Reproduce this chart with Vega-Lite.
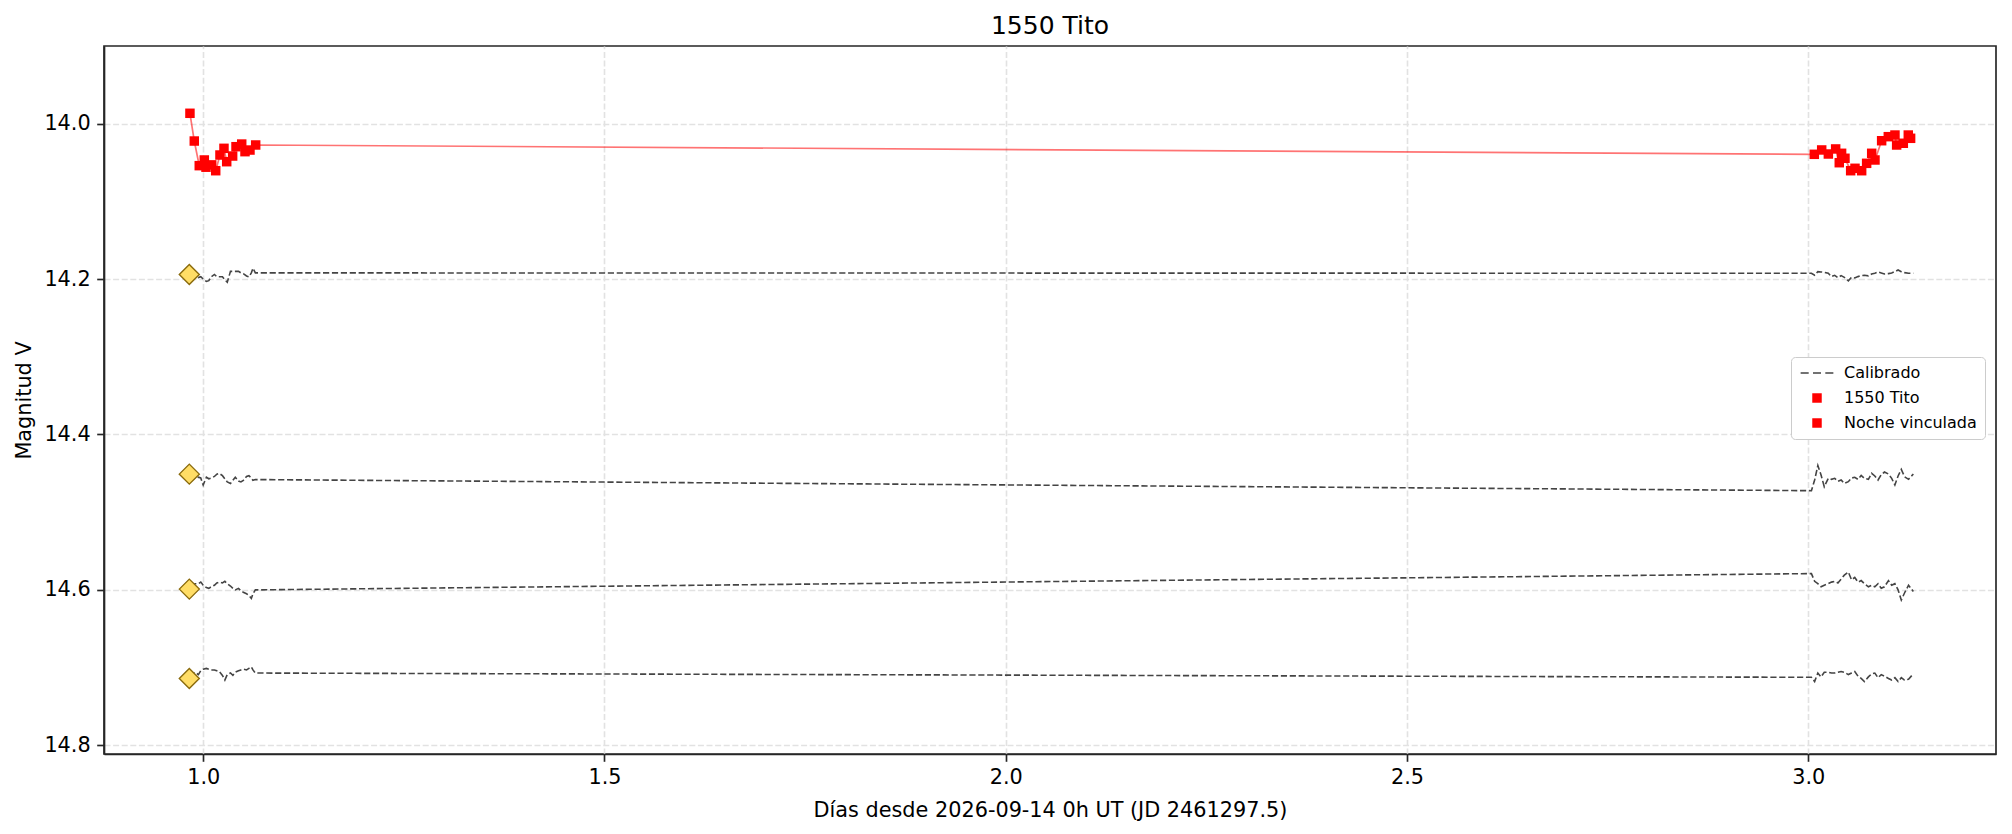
{
  "$schema": "https://vega.github.io/schema/vega-lite/v6.json",
  "width": 1892,
  "height": 708,
  "autosize": {"type": "none"},
  "padding": {"left": 104, "top": 46, "right": 16, "bottom": 80},
  "background": "white",
  "title": {"text": "1550 Tito", "fontSize": 25, "fontWeight": "normal", "font": "DejaVu Sans", "color": "#000000", "offset": 7, "anchor": "middle", "frame": "group"},
  "datasets": {
    "target": [
      {"t": 0.9835, "m": 13.9866, "s": "1550 Tito"},
      {"t": 0.9889, "m": 14.0223, "s": "1550 Tito"},
      {"t": 0.9951, "m": 14.054, "s": "1550 Tito"},
      {"t": 1.0014, "m": 14.0467, "s": "1550 Tito"},
      {"t": 1.0035, "m": 14.056, "s": "1550 Tito"},
      {"t": 1.0106, "m": 14.053, "s": "1550 Tito"},
      {"t": 1.0156, "m": 14.0605, "s": "1550 Tito"},
      {"t": 1.0209, "m": 14.0403, "s": "1550 Tito"},
      {"t": 1.0259, "m": 14.0317, "s": "1550 Tito"},
      {"t": 1.0293, "m": 14.0489, "s": "1550 Tito"},
      {"t": 1.0367, "m": 14.0416, "s": "1550 Tito"},
      {"t": 1.0409, "m": 14.0296, "s": "1550 Tito"},
      {"t": 1.048, "m": 14.0262, "s": "1550 Tito"},
      {"t": 1.0521, "m": 14.036, "s": "1550 Tito"},
      {"t": 1.0583, "m": 14.0339, "s": "1550 Tito"},
      {"t": 1.0654, "m": 14.0274, "s": "1550 Tito"},
      {"t": 3.0076, "m": 14.0394, "s": "Noche vinculada"},
      {"t": 3.0168, "m": 14.0338, "s": "Noche vinculada"},
      {"t": 3.0251, "m": 14.039, "s": "Noche vinculada"},
      {"t": 3.0342, "m": 14.0325, "s": "Noche vinculada"},
      {"t": 3.0387, "m": 14.0502, "s": "Noche vinculada"},
      {"t": 3.0416, "m": 14.0381, "s": "Noche vinculada"},
      {"t": 3.0458, "m": 14.0445, "s": "Noche vinculada"},
      {"t": 3.0529, "m": 14.0605, "s": "Noche vinculada"},
      {"t": 3.0583, "m": 14.0574, "s": "Noche vinculada"},
      {"t": 3.0666, "m": 14.0605, "s": "Noche vinculada"},
      {"t": 3.0728, "m": 14.051, "s": "Noche vinculada"},
      {"t": 3.0791, "m": 14.0381, "s": "Noche vinculada"},
      {"t": 3.0832, "m": 14.0467, "s": "Noche vinculada"},
      {"t": 3.0915, "m": 14.0219, "s": "Noche vinculada"},
      {"t": 3.0998, "m": 14.0167, "s": "Noche vinculada"},
      {"t": 3.1081, "m": 14.0146, "s": "Noche vinculada"},
      {"t": 3.1102, "m": 14.0274, "s": "Noche vinculada"},
      {"t": 3.1185, "m": 14.0252, "s": "Noche vinculada"},
      {"t": 3.1247, "m": 14.0146, "s": "Noche vinculada"},
      {"t": 3.1276, "m": 14.0188, "s": "Noche vinculada"}
    ],
    "refs": [
      {"t": 0.9827, "m": 14.194},
      {"t": 0.9827, "m": 14.451},
      {"t": 0.9827, "m": 14.599},
      {"t": 0.9827, "m": 14.714}
    ],
    "comps": [
      {"c": "C1", "t": 0.984, "m": 14.196}, {"c": "C1", "t": 0.987, "m": 14.197}, {"c": "C1", "t": 0.990, "m": 14.195}, {"c": "C1", "t": 0.994, "m": 14.198},
      {"c": "C1", "t": 0.997, "m": 14.197}, {"c": "C1", "t": 1.000, "m": 14.200}, {"c": "C1", "t": 1.004, "m": 14.203}, {"c": "C1", "t": 1.007, "m": 14.202},
      {"c": "C1", "t": 1.010, "m": 14.197}, {"c": "C1", "t": 1.014, "m": 14.194}, {"c": "C1", "t": 1.017, "m": 14.197}, {"c": "C1", "t": 1.020, "m": 14.197},
      {"c": "C1", "t": 1.024, "m": 14.197}, {"c": "C1", "t": 1.027, "m": 14.201}, {"c": "C1", "t": 1.030, "m": 14.204}, {"c": "C1", "t": 1.034, "m": 14.190},
      {"c": "C1", "t": 1.037, "m": 14.190}, {"c": "C1", "t": 1.040, "m": 14.190}, {"c": "C1", "t": 1.044, "m": 14.190}, {"c": "C1", "t": 1.047, "m": 14.192},
      {"c": "C1", "t": 1.050, "m": 14.193}, {"c": "C1", "t": 1.054, "m": 14.196}, {"c": "C1", "t": 1.057, "m": 14.197}, {"c": "C1", "t": 1.060, "m": 14.192},
      {"c": "C1", "t": 1.062, "m": 14.186}, {"c": "C1", "t": 1.065, "m": 14.192},
      {"c": "C1", "t": 3.004, "m": 14.1925}, {"c": "C1", "t": 3.008, "m": 14.1951}, {"c": "C1", "t": 3.012, "m": 14.1904}, {"c": "C1", "t": 3.016, "m": 14.1908},
      {"c": "C1", "t": 3.020, "m": 14.1912}, {"c": "C1", "t": 3.025, "m": 14.1925}, {"c": "C1", "t": 3.029, "m": 14.1968}, {"c": "C1", "t": 3.033, "m": 14.1951},
      {"c": "C1", "t": 3.037, "m": 14.1981}, {"c": "C1", "t": 3.041, "m": 14.1955}, {"c": "C1", "t": 3.045, "m": 14.1977}, {"c": "C1", "t": 3.050, "m": 14.2023},
      {"c": "C1", "t": 3.054, "m": 14.1977}, {"c": "C1", "t": 3.058, "m": 14.1985}, {"c": "C1", "t": 3.062, "m": 14.1968}, {"c": "C1", "t": 3.066, "m": 14.1955},
      {"c": "C1", "t": 3.070, "m": 14.1951}, {"c": "C1", "t": 3.075, "m": 14.1959}, {"c": "C1", "t": 3.079, "m": 14.1934}, {"c": "C1", "t": 3.083, "m": 14.1925},
      {"c": "C1", "t": 3.087, "m": 14.1908}, {"c": "C1", "t": 3.091, "m": 14.1921}, {"c": "C1", "t": 3.095, "m": 14.1934}, {"c": "C1", "t": 3.100, "m": 14.1929},
      {"c": "C1", "t": 3.104, "m": 14.1921}, {"c": "C1", "t": 3.108, "m": 14.1904}, {"c": "C1", "t": 3.112, "m": 14.1882}, {"c": "C1", "t": 3.116, "m": 14.1904},
      {"c": "C1", "t": 3.120, "m": 14.1917}, {"c": "C1", "t": 3.125, "m": 14.1925}, {"c": "C1", "t": 3.131, "m": 14.1925},

      {"c": "C2", "t": 0.984, "m": 14.452}, {"c": "C2", "t": 0.987, "m": 14.455}, {"c": "C2", "t": 0.990, "m": 14.457}, {"c": "C2", "t": 0.994, "m": 14.455},
      {"c": "C2", "t": 0.997, "m": 14.456}, {"c": "C2", "t": 1.000, "m": 14.465}, {"c": "C2", "t": 1.004, "m": 14.455}, {"c": "C2", "t": 1.007, "m": 14.457},
      {"c": "C2", "t": 1.010, "m": 14.456}, {"c": "C2", "t": 1.014, "m": 14.454}, {"c": "C2", "t": 1.017, "m": 14.451}, {"c": "C2", "t": 1.020, "m": 14.450},
      {"c": "C2", "t": 1.024, "m": 14.453}, {"c": "C2", "t": 1.027, "m": 14.457}, {"c": "C2", "t": 1.030, "m": 14.461}, {"c": "C2", "t": 1.034, "m": 14.463},
      {"c": "C2", "t": 1.037, "m": 14.459}, {"c": "C2", "t": 1.040, "m": 14.455}, {"c": "C2", "t": 1.044, "m": 14.460}, {"c": "C2", "t": 1.047, "m": 14.461},
      {"c": "C2", "t": 1.050, "m": 14.459}, {"c": "C2", "t": 1.054, "m": 14.454}, {"c": "C2", "t": 1.057, "m": 14.453}, {"c": "C2", "t": 1.060, "m": 14.456},
      {"c": "C2", "t": 1.062, "m": 14.459}, {"c": "C2", "t": 1.065, "m": 14.458},
      {"c": "C2", "t": 3.004, "m": 14.4723}, {"c": "C2", "t": 3.008, "m": 14.4586}, {"c": "C2", "t": 3.012, "m": 14.440}, {"c": "C2", "t": 3.016, "m": 14.4521},
      {"c": "C2", "t": 3.020, "m": 14.4672}, {"c": "C2", "t": 3.025, "m": 14.4564}, {"c": "C2", "t": 3.029, "m": 14.4577}, {"c": "C2", "t": 3.033, "m": 14.4564},
      {"c": "C2", "t": 3.037, "m": 14.4603}, {"c": "C2", "t": 3.041, "m": 14.4586}, {"c": "C2", "t": 3.045, "m": 14.4629}, {"c": "C2", "t": 3.050, "m": 14.4607},
      {"c": "C2", "t": 3.054, "m": 14.456}, {"c": "C2", "t": 3.058, "m": 14.4551}, {"c": "C2", "t": 3.062, "m": 14.4577}, {"c": "C2", "t": 3.066, "m": 14.4526},
      {"c": "C2", "t": 3.070, "m": 14.4564}, {"c": "C2", "t": 3.075, "m": 14.4577}, {"c": "C2", "t": 3.079, "m": 14.45}, {"c": "C2", "t": 3.083, "m": 14.4534},
      {"c": "C2", "t": 3.087, "m": 14.4586}, {"c": "C2", "t": 3.091, "m": 14.4517}, {"c": "C2", "t": 3.095, "m": 14.4483}, {"c": "C2", "t": 3.100, "m": 14.4509},
      {"c": "C2", "t": 3.104, "m": 14.4564}, {"c": "C2", "t": 3.108, "m": 14.465}, {"c": "C2", "t": 3.112, "m": 14.4534}, {"c": "C2", "t": 3.116, "m": 14.4448},
      {"c": "C2", "t": 3.120, "m": 14.4543}, {"c": "C2", "t": 3.125, "m": 14.4577}, {"c": "C2", "t": 3.131, "m": 14.4509},

      {"c": "C3", "t": 0.984, "m": 14.594}, {"c": "C3", "t": 0.987, "m": 14.593}, {"c": "C3", "t": 0.990, "m": 14.592}, {"c": "C3", "t": 0.994, "m": 14.592},
      {"c": "C3", "t": 0.997, "m": 14.590}, {"c": "C3", "t": 1.000, "m": 14.594}, {"c": "C3", "t": 1.004, "m": 14.597}, {"c": "C3", "t": 1.007, "m": 14.598},
      {"c": "C3", "t": 1.010, "m": 14.596}, {"c": "C3", "t": 1.014, "m": 14.594}, {"c": "C3", "t": 1.017, "m": 14.591}, {"c": "C3", "t": 1.020, "m": 14.590},
      {"c": "C3", "t": 1.024, "m": 14.591}, {"c": "C3", "t": 1.027, "m": 14.589}, {"c": "C3", "t": 1.030, "m": 14.592}, {"c": "C3", "t": 1.034, "m": 14.595},
      {"c": "C3", "t": 1.037, "m": 14.598}, {"c": "C3", "t": 1.040, "m": 14.600}, {"c": "C3", "t": 1.044, "m": 14.598}, {"c": "C3", "t": 1.047, "m": 14.601},
      {"c": "C3", "t": 1.050, "m": 14.603}, {"c": "C3", "t": 1.054, "m": 14.605}, {"c": "C3", "t": 1.057, "m": 14.607}, {"c": "C3", "t": 1.060, "m": 14.611},
      {"c": "C3", "t": 1.062, "m": 14.605}, {"c": "C3", "t": 1.065, "m": 14.600},
      {"c": "C3", "t": 3.004, "m": 14.579}, {"c": "C3", "t": 3.008, "m": 14.589}, {"c": "C3", "t": 3.012, "m": 14.592}, {"c": "C3", "t": 3.016, "m": 14.596},
      {"c": "C3", "t": 3.020, "m": 14.594}, {"c": "C3", "t": 3.025, "m": 14.592}, {"c": "C3", "t": 3.029, "m": 14.590}, {"c": "C3", "t": 3.033, "m": 14.589},
      {"c": "C3", "t": 3.037, "m": 14.591}, {"c": "C3", "t": 3.041, "m": 14.586}, {"c": "C3", "t": 3.045, "m": 14.581}, {"c": "C3", "t": 3.050, "m": 14.577},
      {"c": "C3", "t": 3.054, "m": 14.587}, {"c": "C3", "t": 3.058, "m": 14.584}, {"c": "C3", "t": 3.062, "m": 14.590}, {"c": "C3", "t": 3.066, "m": 14.588},
      {"c": "C3", "t": 3.070, "m": 14.592}, {"c": "C3", "t": 3.075, "m": 14.596}, {"c": "C3", "t": 3.079, "m": 14.594}, {"c": "C3", "t": 3.083, "m": 14.596},
      {"c": "C3", "t": 3.087, "m": 14.592}, {"c": "C3", "t": 3.091, "m": 14.598}, {"c": "C3", "t": 3.095, "m": 14.596}, {"c": "C3", "t": 3.100, "m": 14.588},
      {"c": "C3", "t": 3.104, "m": 14.594}, {"c": "C3", "t": 3.108, "m": 14.592}, {"c": "C3", "t": 3.112, "m": 14.600}, {"c": "C3", "t": 3.116, "m": 14.613},
      {"c": "C3", "t": 3.120, "m": 14.604}, {"c": "C3", "t": 3.125, "m": 14.594}, {"c": "C3", "t": 3.131, "m": 14.602},

      {"c": "C4", "t": 0.984, "m": 14.712}, {"c": "C4", "t": 0.987, "m": 14.708}, {"c": "C4", "t": 0.990, "m": 14.706}, {"c": "C4", "t": 0.994, "m": 14.709},
      {"c": "C4", "t": 0.997, "m": 14.704}, {"c": "C4", "t": 1.000, "m": 14.702}, {"c": "C4", "t": 1.004, "m": 14.701}, {"c": "C4", "t": 1.007, "m": 14.702},
      {"c": "C4", "t": 1.010, "m": 14.703}, {"c": "C4", "t": 1.014, "m": 14.703}, {"c": "C4", "t": 1.017, "m": 14.704}, {"c": "C4", "t": 1.020, "m": 14.705},
      {"c": "C4", "t": 1.024, "m": 14.710}, {"c": "C4", "t": 1.027, "m": 14.716}, {"c": "C4", "t": 1.030, "m": 14.709}, {"c": "C4", "t": 1.034, "m": 14.707},
      {"c": "C4", "t": 1.037, "m": 14.710}, {"c": "C4", "t": 1.040, "m": 14.706}, {"c": "C4", "t": 1.044, "m": 14.704}, {"c": "C4", "t": 1.047, "m": 14.703},
      {"c": "C4", "t": 1.050, "m": 14.702}, {"c": "C4", "t": 1.054, "m": 14.703}, {"c": "C4", "t": 1.057, "m": 14.701}, {"c": "C4", "t": 1.060, "m": 14.699},
      {"c": "C4", "t": 1.062, "m": 14.703}, {"c": "C4", "t": 1.065, "m": 14.707},
      {"c": "C4", "t": 3.004, "m": 14.7125}, {"c": "C4", "t": 3.008, "m": 14.718}, {"c": "C4", "t": 3.012, "m": 14.707}, {"c": "C4", "t": 3.016, "m": 14.712},
      {"c": "C4", "t": 3.020, "m": 14.706}, {"c": "C4", "t": 3.025, "m": 14.706}, {"c": "C4", "t": 3.029, "m": 14.707}, {"c": "C4", "t": 3.033, "m": 14.707},
      {"c": "C4", "t": 3.037, "m": 14.706}, {"c": "C4", "t": 3.041, "m": 14.705}, {"c": "C4", "t": 3.045, "m": 14.706}, {"c": "C4", "t": 3.050, "m": 14.709},
      {"c": "C4", "t": 3.054, "m": 14.707}, {"c": "C4", "t": 3.058, "m": 14.705}, {"c": "C4", "t": 3.062, "m": 14.711}, {"c": "C4", "t": 3.066, "m": 14.714},
      {"c": "C4", "t": 3.070, "m": 14.718}, {"c": "C4", "t": 3.075, "m": 14.712}, {"c": "C4", "t": 3.079, "m": 14.708}, {"c": "C4", "t": 3.083, "m": 14.707},
      {"c": "C4", "t": 3.087, "m": 14.713}, {"c": "C4", "t": 3.091, "m": 14.709}, {"c": "C4", "t": 3.095, "m": 14.711}, {"c": "C4", "t": 3.100, "m": 14.714},
      {"c": "C4", "t": 3.104, "m": 14.716}, {"c": "C4", "t": 3.108, "m": 14.713}, {"c": "C4", "t": 3.112, "m": 14.718}, {"c": "C4", "t": 3.116, "m": 14.713},
      {"c": "C4", "t": 3.120, "m": 14.716}, {"c": "C4", "t": 3.125, "m": 14.715}, {"c": "C4", "t": 3.131, "m": 14.708}
    ]
  },
  "encoding": {
    "x": {"field": "t", "type": "quantitative", "scale": {"domain": [0.8764, 3.234], "nice": false, "zero": false},
      "axis": {"values": [1.0, 1.5, 2.0, 2.5, 3.0], "format": ".1f", "title": "Días desde 2026-09-14 0h UT (JD 2461297.5)", "titlePadding": 13}},
    "y": {"field": "m", "type": "quantitative", "scale": {"domain": [13.9, 14.8112], "nice": false, "zero": false, "reverse": true},
      "axis": {"values": [14.0, 14.2, 14.4, 14.6, 14.8], "format": ".1f", "title": "Magnitud V", "titlePadding": 9}}
  },
  "layer": [
    {
      "data": {"name": "comps"},
      "mark": {"type": "line", "stroke": "#444444", "strokeWidth": 1.6, "strokeDash": [6.2, 2.7], "clip": true},
      "encoding": {"detail": {"field": "c"}}
    },
    {
      "data": {"name": "refs"},
      "mark": {"type": "point", "shape": "diamond", "size": 400, "filled": true, "fill": "#ffdd66", "stroke": "#8a6a0c", "strokeWidth": 1.4, "opacity": 1}
    },
    {
      "data": {"name": "target"},
      "mark": {"type": "line", "stroke": "#ff0000", "strokeOpacity": 0.55, "strokeWidth": 1.7},
      "encoding": {}
    },
    {
      "data": {"name": "target"},
      "mark": {"type": "point", "filled": true, "size": 90, "opacity": 1},
      "encoding": {
        "color": {"field": "s", "type": "nominal",
          "scale": {"domain": ["Calibrado", "1550 Tito", "Noche vinculada"], "range": ["#444444", "#ff0000", "#ff0000"]},
          "legend": {"title": null, "orient": "none", "legendX": 1687, "legendY": 311, "fillColor": "#ffffff", "strokeColor": "#cccccc", "cornerRadius": 4, "padding": 8, "labelFontSize": 16, "labelFont": "DejaVu Sans", "labelColor": "#000000", "symbolSize": 90, "symbolOffset": 10, "labelOffset": 19, "rowPadding": 9, "symbolStrokeWidth": 0, "symbolOpacity": 1}},
        "shape": {"field": "s", "type": "nominal",
          "scale": {"domain": ["Calibrado", "1550 Tito", "Noche vinculada"], "range": ["M-3.45,-0.18L-1.75,-0.18L-1.75,0.18L-3.45,0.18Z M-0.85,-0.18L0.85,-0.18L0.85,0.18L-0.85,0.18Z M1.75,-0.18L3.45,-0.18L3.45,0.18L1.75,0.18Z", "square", "square"]},
          "legend": {"title": null, "orient": "none", "legendX": 1687, "legendY": 311, "fillColor": "#ffffff", "strokeColor": "#cccccc", "cornerRadius": 4, "padding": 8, "labelFontSize": 16, "labelFont": "DejaVu Sans", "labelColor": "#000000", "symbolSize": 90, "symbolOffset": 10, "labelOffset": 19, "rowPadding": 9, "symbolStrokeWidth": 0, "symbolOpacity": 1}}
      }
    }
  ],
  "config": {
    "font": "DejaVu Sans",
    "view": {"stroke": "#262626", "strokeWidth": 1.67},
    "axis": {
      "grid": true, "gridColor": "#e2e2e2", "gridDash": [6, 2.6], "gridWidth": 1.6,
      "domainColor": "#262626", "domainWidth": 1.67,
      "tickColor": "#262626", "tickWidth": 1.67, "tickSize": 7.3,
      "labelFont": "DejaVu Sans", "labelFontSize": 20.8, "labelColor": "#000000", "labelPadding": 6.5,
      "titleFont": "DejaVu Sans", "titleFontSize": 20.8, "titleFontWeight": "normal", "titleColor": "#000000"
    }
  }
}
